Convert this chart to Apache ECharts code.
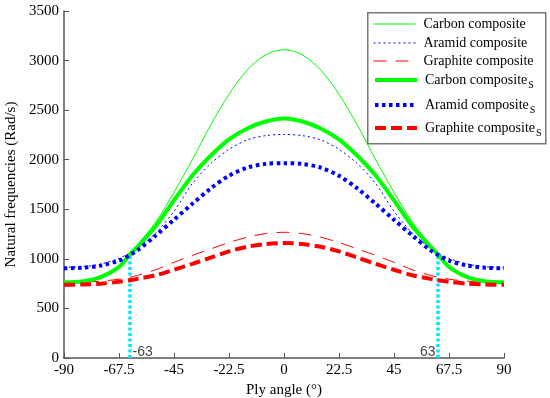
<!DOCTYPE html>
<html><head><meta charset="utf-8">
<script src="https://cdn.jsdelivr.net/npm/echarts@6/dist/echarts.min.js"></script>
<style>html,body{margin:0;padding:0;background:#fff}#c{width:550px;height:398px}</style>
</head><body><div id="c"></div>
<script>
// Ply angle (degrees)
const angles = [-90,-82.5,-75,-67.5,-63,-60,-52.5,-45,-37.5,-30,-22.5,-15,-7.5,0,7.5,15,22.5,30,37.5,45,52.5,60,63,67.5,75,82.5,90];
// Natural frequencies (Rad/s)
const carbon    = [770,782,828,935,1055,1140,1370,1670,2000,2350,2660,2905,3058,3110,3058,2905,2660,2350,2000,1670,1370,1140,1055,935,828,782,770];
const aramid    = [915,920,948,1005,1060,1105,1260,1480,1760,1960,2105,2200,2243,2255,2243,2200,2105,1960,1760,1480,1260,1105,1060,1005,948,920,915];
const graphite  = [760,764,775,795,815,832,890,965,1035,1100,1165,1218,1255,1268,1255,1218,1165,1100,1035,965,890,832,815,795,775,764,760];
const carbonS   = [765,772,815,918,1045,1120,1330,1590,1840,2040,2205,2315,2385,2415,2385,2315,2205,2040,1840,1590,1330,1120,1045,918,815,772,765];
const aramidS   = [905,910,932,982,1040,1085,1235,1395,1555,1710,1838,1920,1958,1965,1958,1920,1838,1710,1555,1395,1235,1085,1040,982,932,910,905];
const graphiteS = [738,741,750,768,785,798,835,890,950,1012,1075,1122,1150,1160,1150,1122,1075,1012,950,890,835,798,785,768,750,741,738];
// Marked crossing angles
const crossAngles = [-63, 63];
const crossValue = 1045;
const crossLabels = ['-63', '63'];

const names = ['Carbon composite','Aramid composite','Graphite composite','Carbon compositeS','Aramid compositeS','Graphite compositeS'];
const datas = [carbon, aramid, graphite, carbonS, aramidS, graphiteS];
const colors = ['#00ff00','#0000ff','#ff0000','#00ff00','#0000ff','#ff0000'];
const widths = [1, 1, 1, 4, 4, 4];
const dashes = ['solid', [2,3], [13,9], 'solid', [3.5,3.5], [11,5]];
const legendTops = [17, 36, 54, 70, 95, 118];

const serif = 'Liberation Serif';
const pair = arr => angles.map((a, i) => [a, arr[i]]);

const series = names.map((n, i) => ({
  name: n, type: 'line', data: pair(datas[i]), smooth: 0.3, symbol: 'none', showSymbol: false,
  lineStyle: { color: colors[i], width: widths[i], type: dashes[i], cap: 'butt' },
  itemStyle: { color: colors[i] }, z: 2 + (i >= 3 ? 1 : 0)
}));

crossAngles.forEach((a, k) => {
  series.push({
    type: 'line', silent: true, symbol: 'none', z: 1,
    data: [[a, 0], [a, crossValue]],
    lineStyle: { color: '#00e6ff', width: 3.5, type: [3, 2.5] }
  });
  series.push({
    type: 'scatter', silent: true, symbolSize: 1,
    itemStyle: { color: 'rgba(0,0,0,0)' },
    data: [[a, 0]],
    label: {
      show: true, formatter: crossLabels[k], position: k === 0 ? 'right' : 'left',
      distance: 2, offset: [0, -6], fontFamily: 'Liberation Sans', fontSize: 14, color: '#111'
    }
  });
});

const legends = names.map((n, i) => {
  const isSub = i >= 3;
  const base = isSub ? n.slice(0, -1) : n;
  return {
    data: [n], left: 373, top: legendTops[i], padding: 0,
    itemWidth: 42, itemHeight: 14, selectedMode: false, z: 5,
    itemStyle: { color: 'rgba(0,0,0,0)', borderWidth: 0, opacity: 0 },
    lineStyle: { color: colors[i], width: widths[i] === 1 ? 1 : 4, type: dashes[i], cap: 'butt', opacity: 1 },
    formatter: () => isSub ? '{m|' + base + '}{s|S}' : '{n|' + base + '}',
    textStyle: {
      fontFamily: serif, fontSize: 14, color: '#000',
      rich: {
        n: { fontFamily: serif, fontSize: 14, lineHeight: 14, padding: [0, 0, 0, 3], color: '#000' },
        m: { fontFamily: serif, fontSize: 14, lineHeight: 14, padding: [3, 0, 3, 3], color: '#000' },
        s: { fontFamily: serif, fontSize: 10, lineHeight: 10, padding: [10, 0, 0, 1], color: '#000' }
      }
    }
  };
});

const chart = echarts.init(document.getElementById('c'), null, { renderer: 'canvas' });
chart.setOption({
  animation: false,
  backgroundColor: '#fff',
  grid: { left: 64, right: 46, top: 11, bottom: 40, containLabel: false, outerBoundsMode: 'none' },
  xAxis: {
    type: 'value', min: -90, max: 90, interval: 22.5,
    name: 'Ply angle (°)', nameLocation: 'middle', nameGap: 22,
    nameTextStyle: { fontFamily: serif, fontSize: 15, color: '#000' },
    axisLine: { show: true, onZero: false, lineStyle: { color: '#555', width: 1.5 } },
    axisTick: { show: true, inside: true, length: 5, lineStyle: { color: '#555' } },
    axisLabel: { fontFamily: serif, fontSize: 15, color: '#000', margin: 5, formatter: v => String(v) },
    splitLine: { show: false }
  },
  yAxis: {
    type: 'value', min: 0, max: 3500, interval: 500,
    name: 'Natural frequencies (Rad/s)', nameLocation: 'middle', nameGap: 33,
    nameTextStyle: { fontFamily: serif, fontSize: 15, color: '#000' },
    axisLine: { show: true, onZero: false, lineStyle: { color: '#555', width: 1.5 } },
    axisTick: { show: true, inside: true, length: 5, lineStyle: { color: '#555' } },
    axisLabel: { fontFamily: serif, fontSize: 15, color: '#000', margin: 5, formatter: v => String(v) },
    splitLine: { show: false }
  },
  legend: legends,
  graphic: [{
    type: 'rect', z: 3, left: 367, top: 12,
    shape: { width: 178, height: 131 },
    style: { fill: '#fff', stroke: '#777', lineWidth: 1.5 }
  }],
  series: series
});
</script></body></html>
